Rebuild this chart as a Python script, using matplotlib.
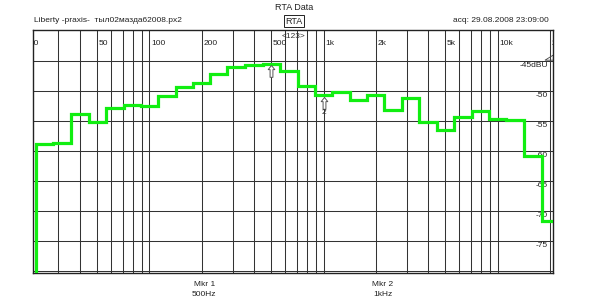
import matplotlib
matplotlib.use("Agg")
import matplotlib.pyplot as plt
import numpy as np
from matplotlib.patches import Polygon
from matplotlib.path import Path

plt.rcParams['font.family'] = ['Liberation Sans', 'DejaVu Sans']

# 1/3-octave band centres (Hz) and measured levels (dBu)
band_centers = [20, 25, 31.5, 40, 50, 63, 80, 100, 125, 160, 200, 250, 315, 400,
                500, 630, 800, 1000, 1250, 1600, 2000, 2500, 3150, 4000, 5000,
                6300, 8000, 10000, 12500, 16000, 20000]
levels = [-90, -58.8, -58.6, -53.9, -55.2, -52.8, -52.3, -52.5, -50.9, -49.4,
          -48.7, -47.1, -46.0, -45.7, -45.5, -46.7, -49.2, -50.7, -50.1, -51.5,
          -50.7, -53.2, -51.1, -55.2, -56.5, -54.3, -53.3, -54.7, -54.9, -60.8,
          -71.7]

freq_ticks = [20, 50, 100, 200, 500, 1000, 2000, 5000, 10000, 20000]
freq_tick_labels = ["20", "50", "100", "200", "500", "1k", "2k", "5k", "10k", "20k"]
db_ticks = [-45, -50, -55, -60, -65, -70, -75]
db_tick_labels = ["-45dBU", "-50", "-55", "-60", "-65", "-70", "-75"]

markers = [(500, "1", "500Hz"), (1000, "2", "1kHz")]

title = "RTA Data"
file_label = "Liberty -praxis-  тыл02мазда62008.px2"
acq_label = "acq: 29.08.2008 23:09:00"

fig = plt.figure(figsize=(6, 3), dpi=100)
ax = fig.add_axes([33.3 / 600, 27 / 300, 520 / 600, 243.5 / 300])
ax.set_xscale('log')
ax.set_xlim(21.5, 20900)
ax.set_ylim(-80.35, -39.75)

# grid
grid_freqs = [f * m for m in (10, 100, 1000) for f in range(1, 10)] + [10000, 20000]
grid_freqs = [f for f in grid_freqs if 25 < f <= 20000]
for f in grid_freqs:
    ax.axvline(f, color='#333333', lw=0.75, zorder=1)
for d in db_ticks + [-80]:
    ax.axhline(d, color='#333333', lw=0.75, zorder=1)

# step curve
c = np.array(band_centers, dtype=float)
edges = np.concatenate([[c[0] / 2 ** (1 / 6)], np.sqrt(c[1:] * c[:-1]), [c[-1] * 2 ** (1 / 6)]])
ax.stairs(levels, edges, baseline=None, color='#11ee11', lw=2.3, zorder=3)

ax.set_xticks([])
ax.set_yticks([])
ax.minorticks_off()
for s in ax.spines.values():
    s.set_color('#222222')
    s.set_linewidth(1.0)

trans_x = matplotlib.transforms.blended_transform_factory(ax.transData, ax.transAxes)
trans_y = matplotlib.transforms.blended_transform_factory(ax.transAxes, ax.transData)
off = matplotlib.transforms.ScaledTranslation

for f, lab in zip(freq_ticks, freq_tick_labels):
    ax.text(f, 0.942, lab, transform=trans_x + off(1.5 / 100, 0, fig.dpi_scale_trans),
            ha='left', va='center', fontsize=6, color='#222222', clip_on=True, zorder=4)

for d, lab in zip(db_ticks, db_tick_labels):
    ax.text(0.99, d, lab, transform=trans_y + off(0, -1.5 / 100, fig.dpi_scale_trans),
            ha='right', va='top', fontsize=6, color='#222222', zorder=2,
            bbox=dict(facecolor='white', edgecolor='none', pad=0.3))

ax.text(0.5, 0.972, "<123>", transform=ax.transAxes, ha='center', va='center',
        fontsize=6, color='#333333')

# small reference indicator at top right
ax.add_patch(Polygon([(0.984, 0.874), (1.0, 0.895), (1.0, 0.874)], closed=True,
                     transform=ax.transAxes, fill=False, edgecolor='#444444', lw=0.6,
                     clip_on=False))

# marker arrow shape (tip at origin, body below)
arrow = Path([(0, 0), (-0.28, -0.35), (-0.12, -0.35), (-0.12, -1.0),
              (0.12, -1.0), (0.12, -0.35), (0.28, -0.35), (0, 0)],
             [Path.MOVETO] + [Path.LINETO] * 6 + [Path.CLOSEPOLY])

lev_map = dict(zip(band_centers, levels))
for f, num, lab in markers:
    v = lev_map[f]
    ax.plot([f], [v - 0.25], marker=arrow, markersize=17, mfc='white', mec='#555555',
            mew=0.7, ls='none', zorder=5)
    if num == "2":
        ax.text(f, v, num, ha='center', va='top', fontsize=6, color='#333333',
                transform=ax.transData + off(0, -14 / 100, fig.dpi_scale_trans), zorder=5)
    xf = fig.transFigure.inverted().transform(ax.transData.transform((f, -60)))[0]
    xl = xf - 67 / 600 if num == "1" else xf + 59 / 600
    fig.text(xl, 1 - 284 / 300, f"Mkr {num}", ha='center', va='center', fontsize=6, color='#222222')
    fig.text(xl, 1 - 295 / 300, lab, ha='center', va='center', fontsize=6, color='#222222')

fig.text(294.5 / 600, 1 - 7.5 / 300, title, ha='center', va='center', fontsize=6.5, color='#222222')
fig.text(294 / 600, 1 - 21 / 300, "RTA", ha='center', va='center', fontsize=6.5, color='#222222',
         bbox=dict(facecolor='white', edgecolor='#222222', lw=0.7, pad=0.8))
fig.text(34.5 / 600, 1 - 20.5 / 300, file_label, ha='left', va='center', fontsize=6, color='#222222')
fig.text(549 / 600, 1 - 20.5 / 300, acq_label, ha='right', va='center', fontsize=6, color='#222222')

fig.savefig("out.png", dpi=100)
